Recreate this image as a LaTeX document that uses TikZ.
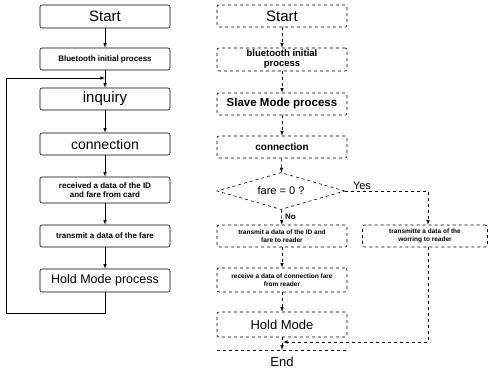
\documentclass[tikz,border=0pt]{standalone}
\usepackage{fontspec}
\setmainfont{Liberation Sans}
\usetikzlibrary{shapes.geometric}

\tikzset{
  box/.style={draw, rounded corners=2pt, minimum width=130pt, align=center,
    inner sep=1pt, line width=0.6pt},
  dbox/.style={box, dashed},
  small/.style={font=\fontsize{8}{9}\selectfont\bfseries},
  tiny/.style={font=\fontsize{6.5}{8}\selectfont\bfseries},
  flow/.style={->, line width=0.6pt},
}

\begin{document}
\begin{tikzpicture}[x=1pt, y=-1pt, >=latex]
  \useasboundingbox (0,0) rectangle (490,376);

  % left column
  \node[box, minimum height=23pt, font=\fontsize{15}{16}\selectfont] (lstart) at (105,16.5) {Start};
  \node[box, minimum height=22pt, small] (lblue) at (105,59) {Bluetooth initial process};
  \node[box, minimum height=22pt, font=\fontsize{15}{16}\selectfont] (linq) at (105,99) {inquiry};
  \node[box, minimum height=22pt, font=\fontsize{14}{15}\selectfont] (lconn) at (105,144) {connection};
  \node[box, minimum height=26pt, small] (lrecv) at (105,190) {received a data of the ID\\and fare from card};
  \node[box, minimum height=22pt, small] (ltrans) at (105,236) {transmit a data of the fare};
  \node[box, minimum height=23pt, font=\fontsize{12.5}{14}\selectfont] (lhold) at (105,280.5) {Hold Mode process};
  \coordinate (lloop) at (105,78);

  \draw[flow] (lstart) -- (lblue);
  \draw[flow] (lblue) -- (linq);
  \draw[flow] (linq) -- (lconn);
  \draw[flow] (lconn) -- (lrecv);
  \draw[flow] (lrecv) -- (ltrans);
  \draw[flow] (ltrans) -- (lhold);
  \draw[flow] (lhold.south) -- ++(0,21) -| (6,78) -- (lloop);

  % right column
  \node[dbox, minimum height=22pt, font=\fontsize{15}{16}\selectfont] (rstart) at (282,16) {Start};
  \node[dbox, minimum height=23pt, font=\fontsize{9.5}{10}\selectfont\bfseries] (rblue) at (282,59.5) {bluetooth initial\\process};
  \node[dbox, minimum height=22pt, font=\fontsize{11.5}{13}\selectfont\bfseries] (rslave) at (282,104) {Slave Mode process};
  \node[dbox, minimum height=22pt, font=\fontsize{10}{11}\selectfont\bfseries] (rconn) at (282,147) {connection};
  \node[diamond, draw, dashed, line width=0.6pt, aspect=3.5, minimum width=128pt, minimum height=37pt,
    inner sep=0pt, font=\fontsize{11}{12}\selectfont] (rfare) at (281,191) {fare = 0 ?};
  \node[dbox, minimum height=22pt, tiny] (rtxid) at (282,236) {transmit a data of the ID and\\fare to reader};
  \node[dbox, minimum width=125pt, minimum height=22pt, tiny] (rtxwarn) at (425,236) {transmitte a data of the\\worring to reader};
  \node[dbox, minimum height=24pt, tiny] (rrecv) at (282,280) {receive a data of connection fare\\from reader};
  \node[dbox, minimum height=25pt, font=\fontsize{13}{14}\selectfont] (rhold) at (282,324.5) {Hold Mode};
  \node[font=\fontsize{13}{14}\selectfont, minimum width=130pt, minimum height=24pt] (rend) at (282,362) {End};
  \draw[dashed, line width=0.6pt] (rend.north west) -- (rend.north east);
  \coordinate (rmerge) at (283,342);

  \draw[flow, dashed] (rstart) -- (rblue);
  \draw[flow, dashed] (rblue) -- (rslave);
  \draw[flow, dashed] (rslave) -- (rconn);
  \draw[flow, dashed] (rconn) -- (rfare);
  \draw[flow, dashed] (rfare) -- node[right, font=\fontsize{8}{9}\selectfont\bfseries] {No} (rtxid);
  \draw[flow, dashed] (rfare.east) -| ([xshift=3pt]rtxwarn.north);
  \node[fill=white, inner sep=1pt, font=\fontsize{11}{12}\selectfont] (ryes) at (362,186) {Yes};
  \draw[flow, dashed] (rtxid) -- (rrecv);
  \draw[flow, dashed] (rrecv) -- (rhold);
  \draw[flow, dashed] (rhold) -- (rend);
  \draw[flow, dashed] ([xshift=3pt]rtxwarn.south) |- (rmerge);
\end{tikzpicture}
\end{document}
